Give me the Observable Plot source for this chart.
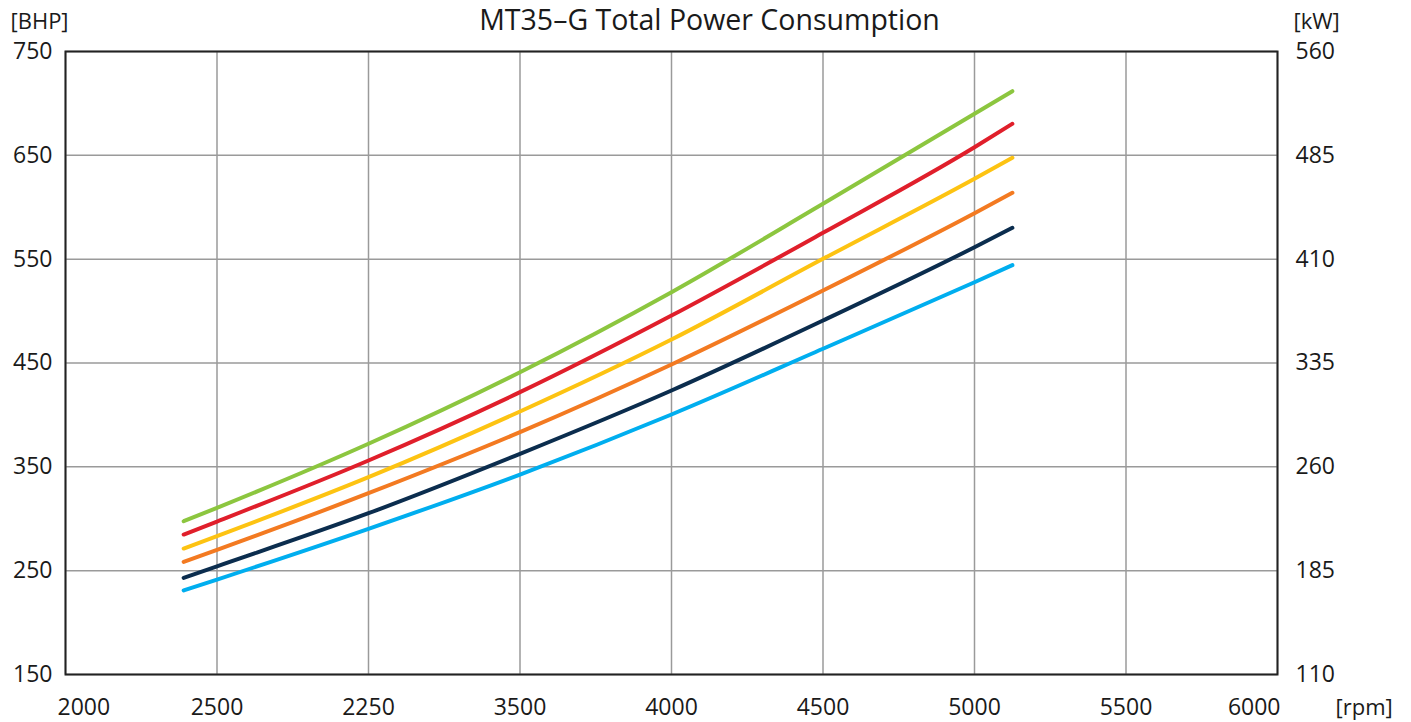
<!DOCTYPE html>
<html>
<head>
<meta charset="utf-8">
<script src="https://cdn.jsdelivr.net/npm/d3@7"></script>
<script src="https://cdn.jsdelivr.net/npm/@observablehq/plot@0.6"></script>
<style>
  html, body { margin: 0; padding: 0; background: #fff; }
  #chart svg { display: block; }
</style>
</head>
<body>
<div id="chart"></div>
<script>
const title = "MT35–G Total Power Consumption";
const rpm = [2390, 2500, 3000, 3500, 4000, 4500, 5000, 5125];
const seriesNames = ["s1", "s2", "s3", "s4", "s5", "s6"];
const seriesColors = ["#8cc63f", "#e01f2b", "#fdc312", "#f37a21", "#0b2d4e", "#00aeef"];
const s1 = [297.6, 310.5, 372.2, 441.1, 518.2, 603.3, 690.0, 711.8];
const s2 = [284.8, 297.3, 356.1, 421.9, 495.7, 575.4, 657.8, 680.4];
const s3 = [271.3, 283.3, 340.0, 403.3, 472.6, 550.3, 627.4, 647.6];
const s4 = [258.5, 270.0, 324.6, 383.4, 448.5, 519.8, 594.3, 613.9];
const s5 = [243.1, 254.2, 305.3, 362.5, 423.5, 490.9, 561.5, 580.2];
const s6 = [230.9, 241.4, 290.3, 342.6, 400.4, 463.7, 527.8, 544.2];
const xTicks = [2000, 2500, 3000, 3500, 4000, 4500, 5000, 5500, 6000];
const xTickLabels = ["2000", "2500", "2250", "3500", "4000", "4500", "5000", "5500", "6000"];
const yTicks = [150, 250, 350, 450, 550, 650, 750];
const kwTickLabels = ["110", "185", "260", "335", "410", "485", "560"];

const allSeries = [s1, s2, s3, s4, s5, s6];
const rows = [];
seriesNames.forEach((name, i) => {
  allSeries[i].forEach((v, j) => rows.push({series: name, rpm: rpm[j], bhp: v}));
});
const xLabel = d => xTickLabels[xTicks.indexOf(d)];
const kwLabel = d => kwTickLabels[yTicks.indexOf(d)];
const font = 23;
const ink = "#1a1a1a";

const chart = Plot.plot({
  width: 1411,
  height: 722,
  marginLeft: 65,
  marginRight: 134,
  marginTop: 51,
  marginBottom: 48,
  style: {fontFamily: "'Open Sans', sans-serif", fontSize: font + "px", color: ink, background: "#fff"},
  x: {domain: [2000, 6000]},
  y: {domain: [150, 750]},
  color: {type: "ordinal", domain: seriesNames, range: seriesColors},
  marks: [
    Plot.gridX(xTicks, {stroke: "#9a9a9a", strokeOpacity: 1, strokeWidth: 1.5}),
    Plot.gridY(yTicks, {stroke: "#9a9a9a", strokeOpacity: 1, strokeWidth: 1.5}),
    Plot.line(rows, {x: "rpm", y: "bhp", z: "series", stroke: "series", strokeWidth: 4, curve: "monotone-x"}),
    Plot.frame({stroke: "#222", strokeWidth: 2}),
    Plot.axisY(yTicks, {anchor: "left", tickSize: 0, tickPadding: 13, label: null, fontSize: font}),
    Plot.axisY(yTicks, {anchor: "right", tickSize: 0, tickPadding: 18, tickFormat: kwLabel, label: null, fontSize: font}),
    Plot.axisX(xTicks.slice(1, -1), {anchor: "bottom", tickSize: 0, tickPadding: 24, tickFormat: xLabel, label: null, fontSize: font}),
    Plot.axisX(xTicks.slice(0, 1), {anchor: "bottom", tickSize: 0, tickPadding: 24, tickFormat: xLabel, label: null, fontSize: font, textAnchor: "start", dx: -8}),
    Plot.axisX(xTicks.slice(-1), {anchor: "bottom", tickSize: 0, tickPadding: 24, tickFormat: xLabel, label: null, fontSize: font, textAnchor: "end", dx: 3}),
    Plot.text([title], {frameAnchor: "top", lineAnchor: "middle", dx: 38, dy: -31, fontSize: 28.5, fill: ink}),
    Plot.text(["[BHP]"], {frameAnchor: "top-left", lineAnchor: "middle", textAnchor: "start", dx: -55, dy: -30, fontSize: font - 1, fill: ink}),
    Plot.text(["[kW]"], {frameAnchor: "top-right", lineAnchor: "middle", textAnchor: "start", dx: 16, dy: -30, fontSize: font - 1, fill: ink}),
    Plot.text(["[rpm]"], {frameAnchor: "bottom-right", lineAnchor: "middle", textAnchor: "start", dx: 58, dy: 33, fontSize: font - 1, fill: ink})
  ]
});
document.getElementById("chart").appendChild(chart);
</script>
</body>
</html>
